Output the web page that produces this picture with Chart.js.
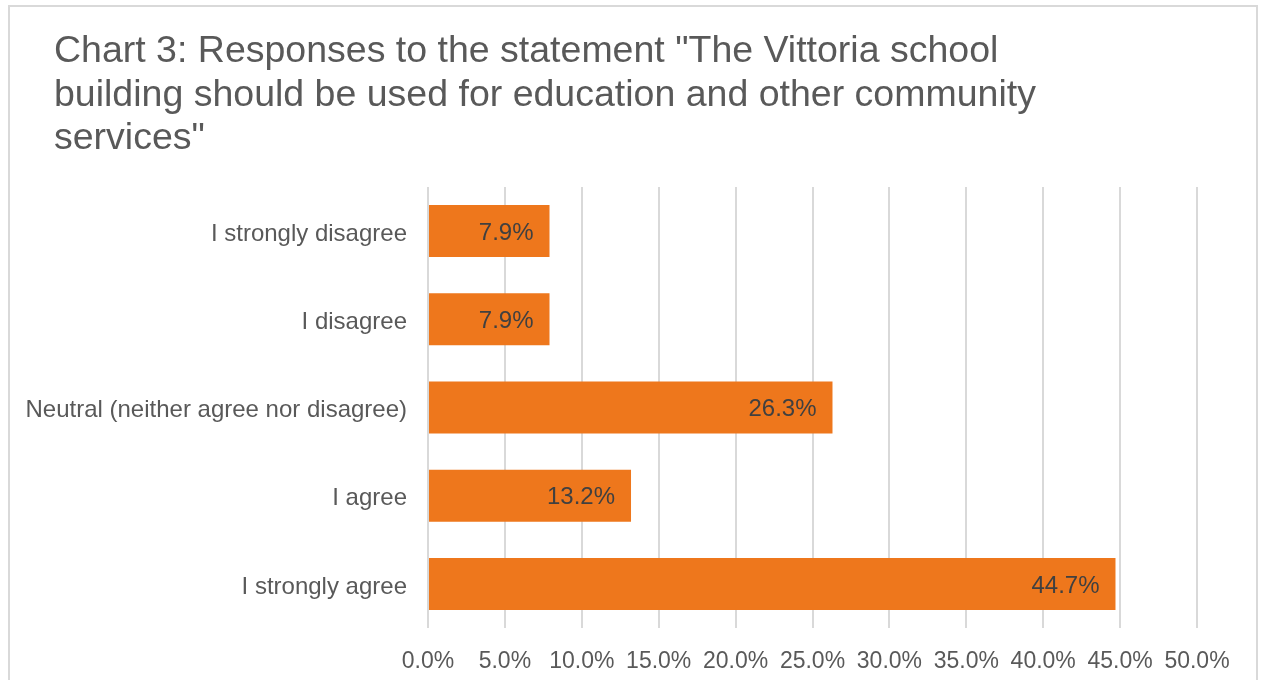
<!DOCTYPE html>
<html>
<head>
<meta charset="utf-8">
<script src="https://cdn.jsdelivr.net/npm/chart.js@4.4.0/dist/chart.umd.min.js"></script>
<style>
  html, body { margin: 0; padding: 0; background: #fff; }
  #wrap { width: 1264px; height: 680px; }
</style>
</head>
<body>
<div id="wrap"><canvas id="graf"></canvas></div>
<script>
const categorias = [
  'I strongly disagree',
  'I disagree',
  'Neutral (neither agree nor disagree)',
  'I agree',
  'I strongly agree'
];
const porcentajes = [7.9, 7.9, 26.3, 13.2, 44.7];
const tituloLineas = [
  'Chart 3: Responses to the statement "The Vittoria school',
  'building should be used for education and other community',
  'services"'
];
const ejeMin = 0;
const ejeMax = 50;
const ejePaso = 5;

const fuente = "'Liberation Sans', Arial, sans-serif";

// marco gris y titulo de tres lineas, alineado a la izquierda
const marco = {
  id: 'marco',
  beforeDraw(chart) {
    const c = chart.ctx;
    c.save();
    c.fillStyle = '#ffffff';
    c.fillRect(0, 0, chart.width, chart.height);
    c.strokeStyle = '#d9d9d9';
    c.lineWidth = 2;
    c.strokeRect(9, 6, 1248, 700);

    c.font = '37.5px ' + fuente;
    c.fillStyle = '#595959';
    c.textAlign = 'left';
    c.textBaseline = 'middle';
    tituloLineas.forEach((linea, i) => {
      c.fillText(linea, 54, 52 + i * 43.5);
    });
    c.restore();
  }
};

// porcentaje escrito dentro del extremo de cada barra
const etiquetas = {
  id: 'etiquetas',
  afterDatasetsDraw(chart) {
    const c = chart.ctx;
    const meta = chart.getDatasetMeta(0);
    c.save();
    c.font = '24px ' + fuente;
    c.fillStyle = '#404040';
    c.textAlign = 'right';
    c.textBaseline = 'middle';
    meta.data.forEach((bar, i) => {
      c.fillText(porcentajes[i].toFixed(1) + '%', bar.x - 16, bar.y + 2);
    });
    c.restore();
  }
};

new Chart(document.getElementById('graf'), {
  type: 'bar',
  data: {
    labels: categorias,
    datasets: [{
      data: porcentajes,
      backgroundColor: '#ee771c',
      barPercentage: 0.59,
      categoryPercentage: 1
    }]
  },
  options: {
    indexAxis: 'y',
    responsive: true,
    maintainAspectRatio: false,
    animation: false,
    layout: {
      padding: { left: 16, right: 67, top: 187, bottom: 0 }
    },
    scales: {
      x: {
        min: ejeMin,
        max: ejeMax,
        afterFit(scale) {
          scale.height = 52;
        },
        ticks: {
          stepSize: ejePaso,
          color: '#595959',
          padding: 20,
          maxRotation: 0,
          font: { family: fuente, size: 23 },
          callback: v => v.toFixed(1) + '%'
        },
        grid: {
          color: '#d9d9d9',
          lineWidth: 2,
          drawTicks: false
        },
        border: { display: false }
      },
      y: {
        afterFit(scale) {
          scale.width = 412;
        },
        ticks: {
          color: '#595959',
          padding: 21,
          labelOffset: 3,
          font: { family: fuente, size: 24 }
        },
        grid: { display: false, drawTicks: false },
        border: { display: false }
      }
    },
    plugins: {
      legend: { display: false },
      tooltip: { enabled: false },
      title: { display: false }
    }
  },
  plugins: [marco, etiquetas]
});
</script>
</body>
</html>
